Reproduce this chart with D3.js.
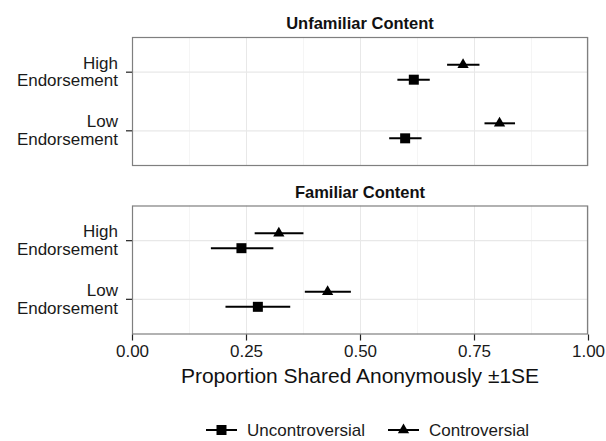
<!DOCTYPE html>
<html>
<head>
<meta charset="utf-8">
<script src="https://cdn.jsdelivr.net/npm/d3@7/dist/d3.min.js"></script>
<style>
  html, body { margin: 0; padding: 0; background: #fff; }
  svg { display: block; }
  text { font-family: "Liberation Sans", Arial, Helvetica, sans-serif; }
</style>
</head>
<body>
<svg id="chart" width="606" height="441"></svg>
<script>
// ---------------- data ----------------
const panels = ["Unfamiliar Content", "Familiar Content"];
const categories = ["High Endorsement", "Low Endorsement"];
const series = ["Uncontroversial", "Controversial"];
const xTicks = [0, 0.25, 0.5, 0.75, 1];
const xTickLabels = ["0.00", "0.25", "0.50", "0.75", "1.00"];
const xMinorTicks = [0.125, 0.375, 0.625, 0.875];

// means per panel, per category (High, Low)
const unfamiliarUncontroversial = [0.618, 0.599];
const unfamiliarUncontroversialLo = [0.582, 0.564];
const unfamiliarUncontroversialHi = [0.653, 0.635];
const unfamiliarControversial = [0.726, 0.806];
const unfamiliarControversialLo = [0.691, 0.773];
const unfamiliarControversialHi = [0.762, 0.840];

const familiarUncontroversial = [0.240, 0.276];
const familiarUncontroversialLo = [0.173, 0.205];
const familiarUncontroversialHi = [0.310, 0.347];
const familiarControversial = [0.322, 0.429];
const familiarControversialLo = [0.269, 0.379];
const familiarControversialHi = [0.376, 0.480];

const xTitle = "Proportion Shared Anonymously \u00B11SE";

// build rows
function rows(panel, s, m, lo, hi) {
  return categories.map((c, i) => ({panel, series: s, cat: c, v: m[i], lo: lo[i], hi: hi[i]}));
}
const data = [
  ...rows(panels[0], series[0], unfamiliarUncontroversial, unfamiliarUncontroversialLo, unfamiliarUncontroversialHi),
  ...rows(panels[0], series[1], unfamiliarControversial, unfamiliarControversialLo, unfamiliarControversialHi),
  ...rows(panels[1], series[0], familiarUncontroversial, familiarUncontroversialLo, familiarUncontroversialHi),
  ...rows(panels[1], series[1], familiarControversial, familiarControversialLo, familiarControversialHi)
];

// ---------------- layout ----------------
const svg = d3.select("#chart");
const L = 132, R = 588;
const panelTops = [37, 205.5];
const panelH = 129;
const FS = 17;

const x = d3.scaleLinear().domain([0, 1]).range([L, R]);
const dodge = d3.scalePoint().domain(series).range([0.128, -0.128]); // in category-step units
const symbolFor = d3.scaleOrdinal().domain(series).range([
  d3.symbol().type(d3.symbolSquare).size(100)(),
  d3.symbol().type(d3.symbolTriangle).size(55)()
]);

panels.forEach((p, pi) => {
  const top = panelTops[pi];
  const y = d3.scalePoint().domain(categories).range([top, top + panelH]).padding(0.6);
  const step = y.step();
  const g = svg.append("g");

  // strip title
  g.append("text")
    .attr("x", (L + R) / 2).attr("y", top - 8)
    .attr("text-anchor", "middle")
    .attr("font-size", FS - 0.5).attr("font-weight", "bold").attr("fill", "#111")
    .text(p);

  // minor grid
  g.selectAll(".minor").data(xMinorTicks).join("line")
    .attr("x1", d => Math.round(x(d)) + 0.5).attr("x2", d => Math.round(x(d)) + 0.5)
    .attr("y1", top).attr("y2", top + panelH)
    .attr("stroke", "#f5f5f5").attr("stroke-width", 1);
  // major grid
  g.selectAll(".major").data(xTicks).join("line")
    .attr("x1", d => Math.round(x(d)) + 0.5).attr("x2", d => Math.round(x(d)) + 0.5)
    .attr("y1", top).attr("y2", top + panelH)
    .attr("stroke", "#e8e8e8").attr("stroke-width", 1);
  g.selectAll(".hmajor").data(categories).join("line")
    .attr("x1", L).attr("x2", R)
    .attr("y1", d => y(d)).attr("y2", d => y(d))
    .attr("stroke", "#e8e8e8").attr("stroke-width", 1.2);

  // data
  const pd = data.filter(d => d.panel === p);
  g.selectAll(".err").data(pd).join("line")
    .attr("x1", d => x(d.lo)).attr("x2", d => x(d.hi))
    .attr("y1", d => y(d.cat) + dodge(d.series) * step)
    .attr("y2", d => y(d.cat) + dodge(d.series) * step)
    .attr("stroke", "#000").attr("stroke-width", 2);
  g.selectAll(".pt").data(pd).join("path")
    .attr("d", d => symbolFor(d.series))
    .attr("transform", d => `translate(${x(d.v)},${y(d.cat) + dodge(d.series) * step})`)
    .attr("fill", "#000");

  // panel border
  g.append("rect")
    .attr("x", L + 0.5).attr("y", top + 0.5)
    .attr("width", R - L - 1).attr("height", panelH - 1)
    .attr("fill", "none").attr("stroke", "#7f7f7f").attr("stroke-width", 1.2);

  // y axis ticks + labels
  g.selectAll(".yt").data(categories).join("line")
    .attr("x1", L - 6).attr("x2", L)
    .attr("y1", d => y(d)).attr("y2", d => y(d))
    .attr("stroke", "#222").attr("stroke-width", 1.2);
  const yl = g.selectAll(".yl").data(categories).join("text")
    .attr("text-anchor", "end")
    .attr("font-size", FS).attr("fill", "#1a1a1a")
    .attr("transform", d => `translate(${L - 14},${y(d)})`);
  yl.append("tspan").attr("x", 0).attr("y", -3.5).text(d => d.split(" ")[0]);
  yl.append("tspan").attr("x", 0).attr("y", 14.2).text(d => d.split(" ")[1]);

  // x axis on bottom panel
  if (pi === panels.length - 1) {
    const ax = d3.axisBottom(x).tickValues(xTicks).tickFormat((d, i) => xTickLabels[i])
      .tickSize(6).tickPadding(4);
    const axg = g.append("g").attr("transform", `translate(0,${top + panelH})`).call(ax);
    axg.select(".domain").remove();
    axg.selectAll(".tick line").attr("stroke", "#222").attr("stroke-width", 1.2);
    axg.selectAll(".tick text").attr("font-size", FS).attr("fill", "#1a1a1a")
      .attr("font-family", "'Liberation Sans', Arial, sans-serif");
  }
});

// x axis title
svg.append("text")
  .attr("x", (L + R) / 2).attr("y", 383)
  .attr("text-anchor", "middle").attr("font-size", 21).attr("fill", "#111")
  .text(xTitle);

// legend
const legendX = [206, 388];
const legendY = 430;
const lg = svg.append("g");
series.forEach((s, i) => {
  const gx = legendX[i];
  lg.append("line").attr("x1", gx).attr("x2", gx + 31).attr("y1", legendY).attr("y2", legendY)
    .attr("stroke", "#000").attr("stroke-width", 2);
  lg.append("path").attr("d", symbolFor(s))
    .attr("transform", `translate(${gx + 15.5},${legendY})`).attr("fill", "#000");
  lg.append("text").attr("x", gx + 41).attr("y", legendY + 5.5)
    .attr("font-size", FS).attr("fill", "#1a1a1a").text(s);
});
</script>
</body>
</html>
